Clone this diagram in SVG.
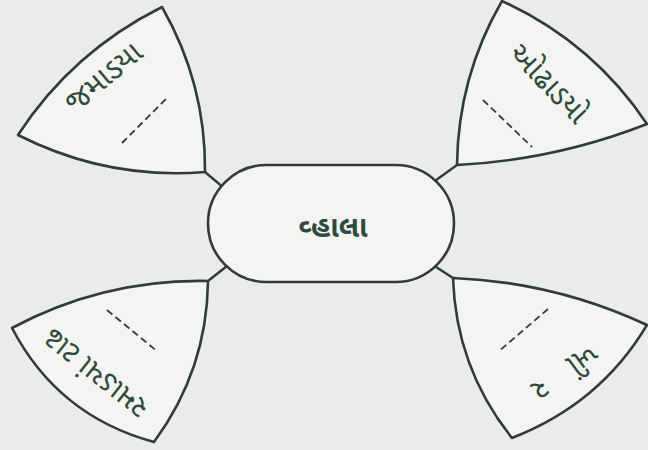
<svg xmlns="http://www.w3.org/2000/svg" width="648" height="450" viewBox="0 0 648 450">
  <style>
    .shape { fill: #f4f5f3; stroke: #2f3d35; stroke-width: 2.6; stroke-linejoin: round; }
    .conn { stroke: #2f3d35; stroke-width: 2.4; fill: none; }
    .dash { stroke: #2f3d35; stroke-width: 1.8; stroke-dasharray: 7 4; fill: none; }
    .lbl { font-family: "Noto Sans Gujarati", "Lohit Gujarati", "Noto Sans", "DejaVu Sans", sans-serif; font-size: 30px; fill: #2f4a3b; text-anchor: middle; }
    .main { font-size: 29px; font-weight: bold; }
  </style>
  <rect x="0" y="0" width="648" height="450" fill="#eaecec"/>
  <g id="connectors">
    <line class="conn" x1="205" y1="172" x2="224" y2="188"/>
    <line class="conn" x1="457" y1="165" x2="432" y2="183"/>
    <line class="conn" x1="208" y1="281" x2="227" y2="266"/>
    <line class="conn" x1="453" y1="278" x2="433" y2="265"/>
  </g>
  <g id="center">
    <rect class="shape" x="208" y="165" width="246" height="117" rx="58.5" ry="58.5"/>
    <text class="lbl main" x="333" y="237">વ્હાલા</text>
  </g>
  <g id="top-left">
    <path class="shape" d="M162,7 Q72,52 18,135 Q106.8,180 205,172 Q206,84 162,7 Z"/>
    <text class="lbl" transform="translate(104,78) rotate(-40)" x="0" y="9">જમાડયા</text>
    <line class="dash" x1="122" y1="143" x2="168" y2="97"/>
  </g>
  <g id="top-right">
    <path class="shape" d="M502,1 Q592,42 647,124 Q555,160 457,165 Q458,77 502,1 Z"/>
    <text class="lbl" transform="translate(548,84) rotate(46)" x="0" y="9">ઓઢાડયો</text>
    <line class="dash" x1="483" y1="100" x2="532" y2="147"/>
  </g>
  <g id="bottom-left">
    <path class="shape" d="M208,281 Q104,279 12,328 Q58,416 154,442 Q207,370 208,281 Z"/>
    <text class="lbl" transform="translate(96,373) rotate(218.5)" x="0" y="9">રમાડયાં ટાઢ</text>
    <line class="dash" x1="107" y1="310" x2="158" y2="352"/>
  </g>
  <g id="bottom-right">
    <path class="shape" d="M453,278 Q555,282 647,325 Q600,404 512,438 Q456,368 453,278 Z"/>
    <text class="lbl" transform="translate(563,372) rotate(143.8)" x="0" y="9" letter-spacing="3" word-spacing="16">ખીં ર</text>
    <line class="dash" x1="548" y1="309" x2="498" y2="352"/>
  </g>
</svg>
